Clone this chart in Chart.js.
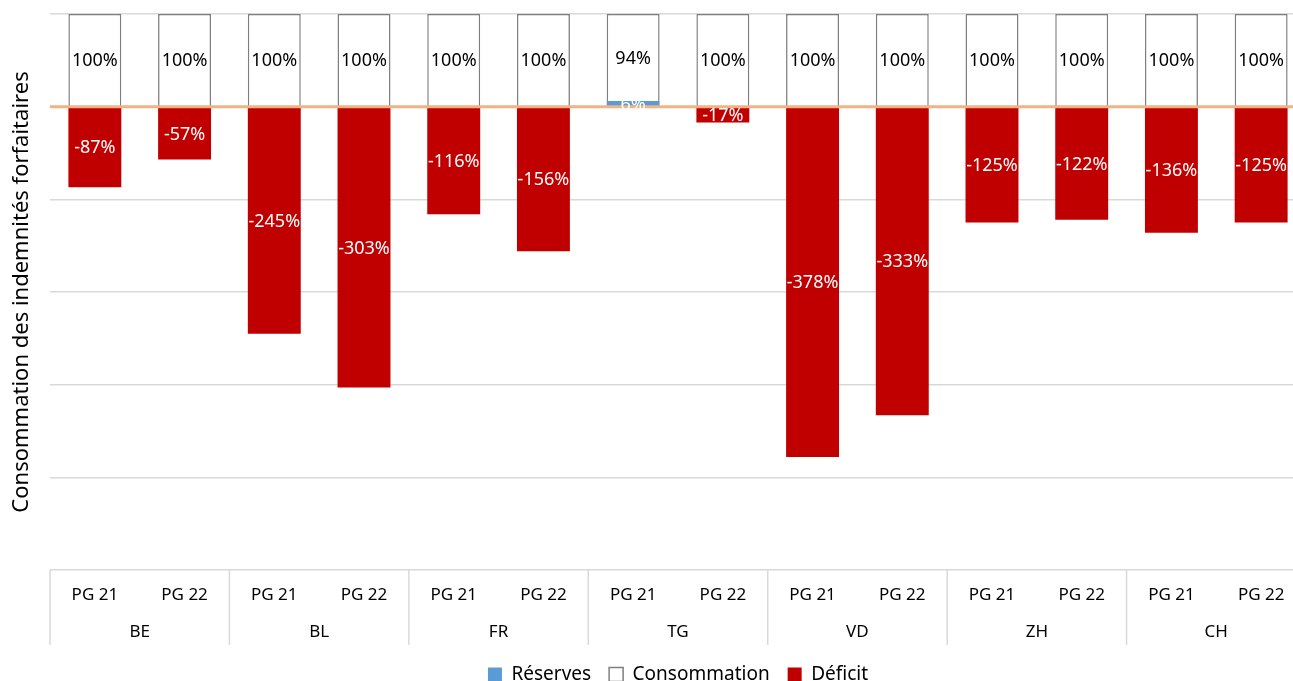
<!DOCTYPE html>
<html>
<head>
<meta charset="utf-8">
<script src="https://cdn.jsdelivr.net/npm/chart.js@4.4.1/dist/chart.umd.min.js"></script>
<style>
  html, body { margin: 0; padding: 0; background: #fff; overflow: hidden; }
  #wrap { width: 1306px; height: 681px; position: relative; }
</style>
</head>
<body>
<div id="wrap"><canvas id="c"></canvas></div>
<script>
const groups = ['BE', 'BL', 'FR', 'TG', 'VD', 'ZH', 'CH'];
const periods = ['PG 21', 'PG 22'];
const reserves     = [0, 0, 0, 0, 0, 0, 6, 0, 0, 0, 0, 0, 0, 0];
const consommation = [100, 100, 100, 100, 100, 100, 94, 100, 100, 100, 100, 100, 100, 100];
const deficit      = [-87, -57, -245, -303, -116, -156, 0, -17, -378, -333, -125, -122, -136, -125];
const yTicks = { min: -500, max: 100, step: 100 };

const labels = [];
groups.forEach(g => periods.forEach(p => labels.push(g + ' ' + p)));

const FONT = "'Noto Sans', 'DejaVu Sans', sans-serif";

const zeroLine = {
  id: 'zeroLine',
  afterDatasetsDraw(chart) {
    const { ctx, chartArea, scales } = chart;
    const y = scales.y.getPixelForValue(0);
    ctx.save();
    ctx.strokeStyle = '#f4b183';
    ctx.lineWidth = 3;
    ctx.beginPath();
    ctx.moveTo(chartArea.left, y);
    ctx.lineTo(chartArea.right, y);
    ctx.stroke();
    ctx.restore();
  }
};

const dataLabels = {
  id: 'dataLabels',
  afterDatasetsDraw(chart) {
    const { ctx } = chart;
    ctx.save();
    ctx.font = '18px ' + FONT;
    ctx.textAlign = 'center';
    ctx.textBaseline = 'middle';
    chart.data.datasets.forEach((ds, di) => {
      const meta = chart.getDatasetMeta(di);
      meta.data.forEach((el, i) => {
        const v = ds.data[i];
        if (!v) return;
        const { x, y, base } = el.getProps(['x', 'y', 'base'], true);
        ctx.fillStyle = ds.labelColor;
        ctx.fillText(v + '%', x, (y + base) / 2 + 1);
      });
    });
    ctx.restore();
  }
};

const groupAxis = {
  id: 'groupAxis',
  afterDraw(chart) {
    const { ctx, chartArea, scales } = chart;
    const xs = scales.x;
    const half = (xs.getPixelForValue(1) - xs.getPixelForValue(0)) / 2;
    ctx.save();
    ctx.strokeStyle = '#d9d9d9';
    ctx.lineWidth = 1.5;
    ctx.fillStyle = '#000';
    ctx.font = '17px ' + FONT;
    ctx.textAlign = 'center';
    ctx.textBaseline = 'middle';
    groups.forEach((g, gi) => {
      const a = xs.getPixelForValue(gi * periods.length);
      const b = xs.getPixelForValue(gi * periods.length + periods.length - 1);
      const left = a - half;
      ctx.beginPath();
      ctx.moveTo(left, chartArea.bottom);
      ctx.lineTo(left, 645);
      ctx.stroke();
      ctx.fillText(g, (a + b) / 2, 632);
    });
    const last = xs.getPixelForValue(labels.length - 1) + half;
    ctx.beginPath();
    ctx.moveTo(last, chartArea.bottom);
    ctx.lineTo(last, 645);
    ctx.stroke();
    ctx.restore();
  }
};

new Chart(document.getElementById('c'), {
  type: 'bar',
  data: {
    labels: labels,
    datasets: [
      { label: 'Réserves', data: reserves, backgroundColor: '#5b9bd5', borderWidth: 0, labelColor: '#fff',
        barPercentage: 0.59, categoryPercentage: 1 },
      { label: 'Consommation', data: consommation, backgroundColor: '#ffffff', borderColor: '#7f7f7f', borderWidth: 1.5, labelColor: '#000',
        barPercentage: 0.59, categoryPercentage: 1 },
      { label: 'Déficit', data: deficit, backgroundColor: '#c00000', borderWidth: 0, labelColor: '#fff',
        barPercentage: 0.59, categoryPercentage: 1 }
    ]
  },
  options: {
    responsive: true,
    maintainAspectRatio: false,
    animation: false,
    layout: { padding: { top: 14, left: 0, right: 0, bottom: -13 } },
    plugins: {
      tooltip: { enabled: false },
      legend: {
        position: 'bottom',
        fullSize: false,
        labels: {
          font: { family: FONT, size: 19 },
          color: '#000',
          boxWidth: 14,
          boxHeight: 14,
          padding: 18
        }
      }
    },
    scales: {
      x: {
        stacked: true,
        grid: { display: false, drawTicks: false },
        border: { display: false },
        ticks: {
          font: { family: FONT, size: 17 },
          color: '#000',
          padding: 15,
          maxRotation: 0,
          autoSkip: false,
          callback: (v, i) => periods[i % periods.length]
        },
        afterFit: s => { s.height = 77; }
      },
      y: {
        stacked: true,
        min: yTicks.min,
        max: yTicks.max,
        grid: { color: '#d9d9d9', lineWidth: 1.5, drawTicks: false },
        border: { display: false },
        ticks: { display: false, stepSize: yTicks.step },
        title: {
          display: true,
          text: 'Consommation des indemnités forfaitaires',
          font: { family: FONT, size: 22 },
          color: '#000',
          padding: { top: 9, bottom: 0 }
        },
        afterFit: s => { s.width = 50; }
      }
    }
  },
  plugins: [zeroLine, dataLabels, groupAxis]
});
</script>
</body>
</html>
